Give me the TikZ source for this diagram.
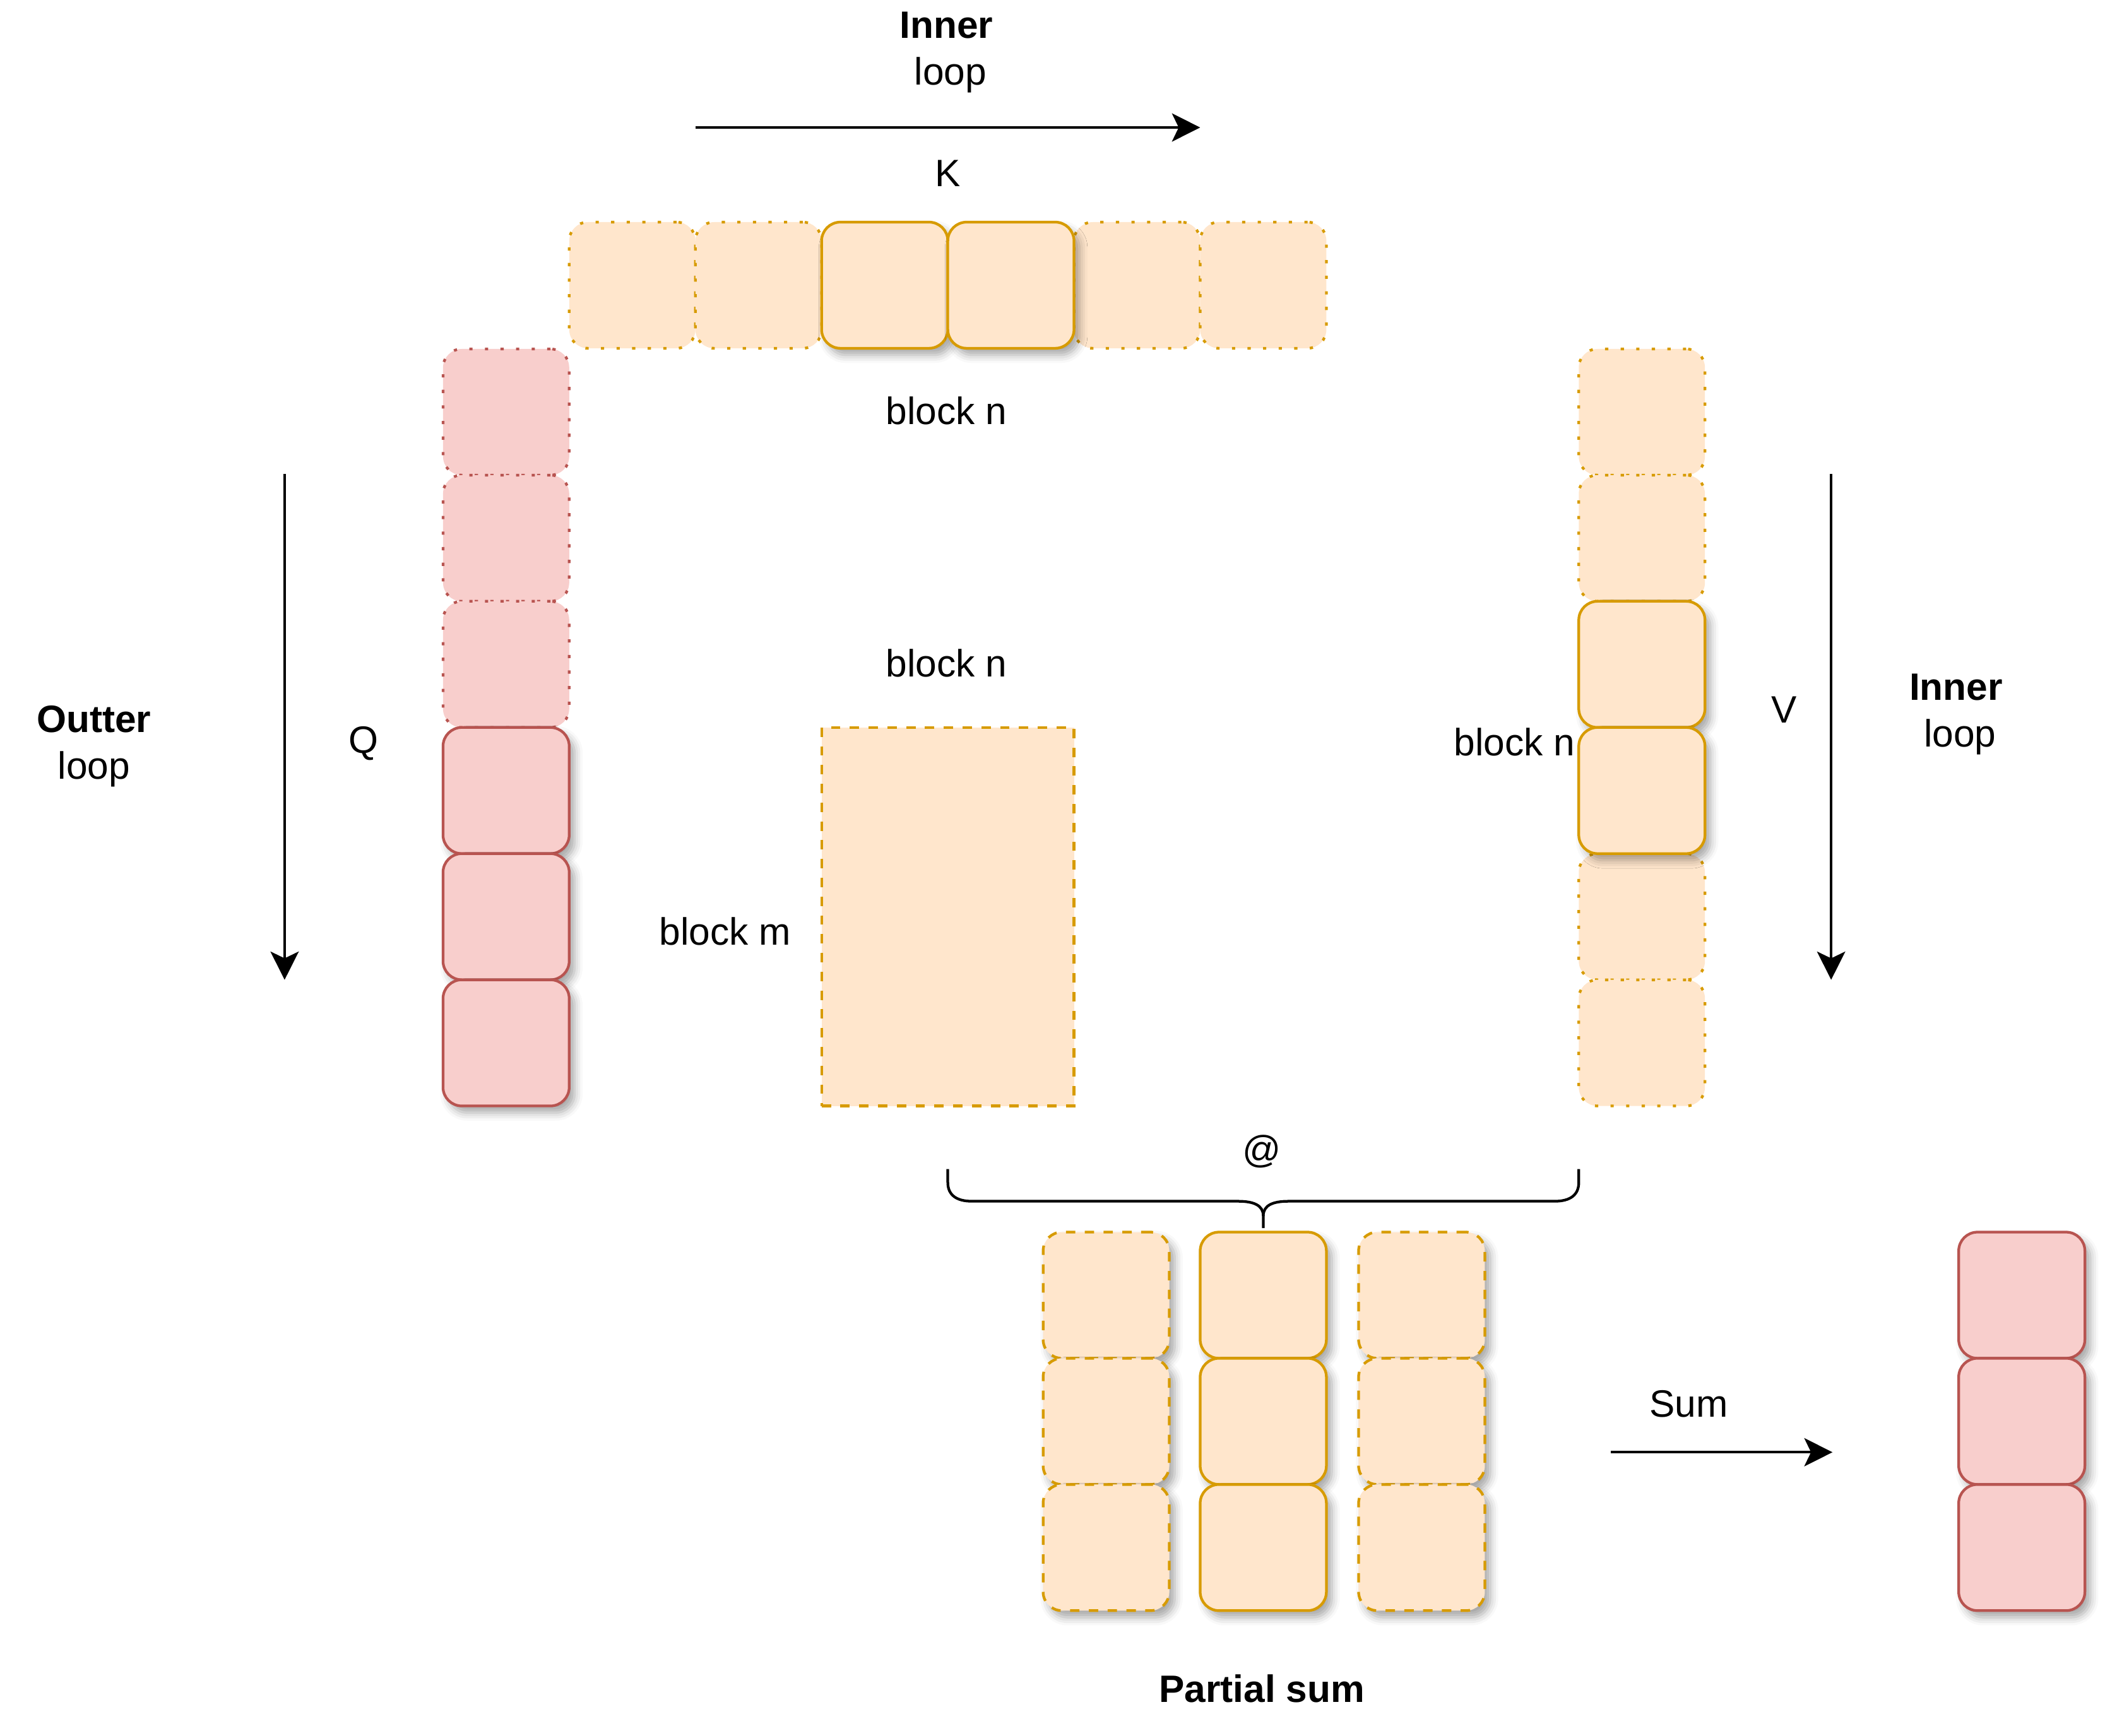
\documentclass[tikz,border=0pt]{standalone}
\usepackage{fontspec}
\setmainfont{Liberation Sans}
\usetikzlibrary{arrows.meta,shadows.blur}
\definecolor{ofill}{HTML}{FFE6CC}
\definecolor{ostroke}{HTML}{D79B00}
\definecolor{rfill}{HTML}{F8CECC}
\definecolor{rstroke}{HTML}{B85450}
\tikzset{
  blk/.style={rectangle, rounded corners=7pt, minimum width=47pt, minimum height=47pt, inner sep=0pt, line width=1pt},
  oblk/.style={blk, fill=ofill, draw=ostroke},
  rblk/.style={blk, fill=rfill, draw=rstroke},
  dotb/.style={dash pattern=on 1.2pt off 4.6pt},
  dashb/.style={dash pattern=on 3.5pt off 3.5pt},
  shad/.style={blur shadow={shadow xshift=2pt, shadow yshift=-2.5pt, shadow blur radius=3pt, shadow opacity=35}},
  lbl/.style={font=\fontsize{14.2}{17}\selectfont, inner sep=0pt},
  blbl/.style={font=\fontsize{14.2}{17}\selectfont\bfseries, inner sep=0pt},
  arr/.style={line width=1pt, -{Stealth[length=10.5pt,width=10.5pt,inset=2.5pt]}},
  brace/.style={line width=1pt},
}
\begin{document}
\begin{tikzpicture}[x=0.5pt,y=-0.5pt]
\path[use as bounding box] (0,0) rectangle (1568,1293);

% ---- K row ----
\node[oblk,dotb] (k1) at (471,212.5) {};
\node[oblk,dotb] (k2) at (565,212.5) {};
\node[oblk,dotb] (k5) at (847,212.5) {};
\node[oblk,dotb] (k6) at (941,212.5) {};
\node[oblk,shad] (k3) at (659,212.5) {};
\node[oblk,shad] (k4) at (753,212.5) {};

% ---- Q column ----
\node[rblk,dotb] (q1) at (377,307) {};
\node[rblk,dotb] (q2) at (377,401) {};
\node[rblk,dotb] (q3) at (377,495) {};
\node[rblk,shad] (q4) at (377,589) {};
\node[rblk,shad] (q5) at (377,683) {};
\node[rblk,shad] (q6) at (377,777) {};

% ---- V column ----
\node[oblk,dotb] (v1) at (1223,307) {};
\node[oblk,dotb] (v2) at (1223,401) {};
\node[oblk,dotb] (v5) at (1223,683) {};
\node[oblk,dotb] (v6) at (1223,777) {};
\node[oblk,shad] (v3) at (1223,495) {};
\node[oblk,shad] (v4) at (1223,589) {};

% ---- score block ----
\node[rectangle, minimum width=94pt, minimum height=141pt, inner sep=0pt, line width=1pt, fill=ofill, draw=ostroke, dashb] (s) at (706,683) {};

% ---- partial sums ----
\node[oblk,dashb,shad] (p11) at (824,965) {};
\node[oblk,dashb,shad] (p12) at (824,1059) {};
\node[oblk,dashb,shad] (p13) at (824,1153) {};
\node[oblk,shad] (p21) at (941,965) {};
\node[oblk,shad] (p22) at (941,1059) {};
\node[oblk,shad] (p23) at (941,1153) {};
\node[oblk,dashb,shad] (p31) at (1059,965) {};
\node[oblk,dashb,shad] (p32) at (1059,1059) {};
\node[oblk,dashb,shad] (p33) at (1059,1153) {};

% ---- result ----
\node[rblk,shad] (r1) at (1506,965) {};
\node[rblk,shad] (r2) at (1506,1059) {};
\node[rblk,shad] (r3) at (1506,1153) {};

% ---- labels ----
\node[blbl] (innerT) at (705,19) {Inner};
\node[lbl] (loopT) at (708,56) {loop};
\node[lbl] (K) at (706,129) {K};
\node[lbl] (bn1) at (705,306) {block n};
\node[lbl] (bn2) at (705,494) {block n};
\node[lbl] (bm) at (540,694) {block m};
\node[lbl] (Q) at (271,554) {Q};
\node[blbl] (outterL) at (70,536) {Outter};
\node[lbl] (loopL) at (70,573) {loop};
\node[lbl] (bn3) at (1128,553) {block n};
\node[lbl] (V) at (1329,529) {V};
\node[blbl] (innerR) at (1457,512) {Inner};
\node[lbl] (loopR) at (1460,549) {loop};
\node[lbl] (at) at (940,858) {@};
\node[blbl] (ps) at (940,1258) {Partial sum};
\node[lbl] (sum) at (1258,1046) {Sum};

% ---- arrows ----
\coordinate (a1s) at (518,95);  \coordinate (a1e) at (894,95);
\coordinate (a2s) at (212,353); \coordinate (a2e) at (212,730);
\coordinate (a3s) at (1364,353); \coordinate (a3e) at (1364,730);
\coordinate (a4s) at (1200,1082); \coordinate (a4e) at (1365,1082);
\draw[arr] (a1s) -- (a1e);
\draw[arr] (a2s) -- (a2e);
\draw[arr] (a3s) -- (a3e);
\draw[arr] (a4s) -- (a4e);

% ---- brace ----
\draw[brace] (706,871) -- (706,881) .. controls (706,890) and (712,895) .. (724,895)
  -- (922,895) .. controls (934,895) and (941,898) .. (941,906) -- (941,915);
\draw[brace] (941,906) .. controls (941,898) and (948,895) .. (960,895)
  -- (1158,895) .. controls (1170,895) and (1176,890) .. (1176,881) -- (1176,871);
\end{tikzpicture}
\end{document}
